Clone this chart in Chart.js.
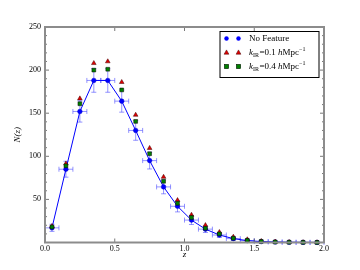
<!DOCTYPE html>
<html>
<head>
<meta charset="utf-8">
<script src="https://cdn.jsdelivr.net/npm/chart.js@4"></script>
<style>
  html, body { margin: 0; padding: 0; background: #fff; }
  #wrap { width: 360px; height: 270px; }
</style>
</head>
<body>
<div id="wrap"><canvas id="nzChart" width="360" height="270"></canvas></div>
<script>
// ================= DATA =================
const zBins = [0.05, 0.15, 0.25, 0.35, 0.45, 0.55, 0.65, 0.75, 0.85, 0.95,
               1.05, 1.15, 1.25, 1.35, 1.45, 1.55, 1.65, 1.75, 1.85, 1.95];
const noFeature = [17, 85, 152, 188, 188, 164, 130, 95, 64.5, 42,
                   26, 15.5, 8.7, 4.5, 2.2, 1.1, 0.6, 0.3, 0.15, 0.1];
const noFeatureErr = [4.1, 9.2, 12.3, 13.7, 13.7, 12.8, 11.4, 9.7, 8, 6.5,
                      5.1, 3.9, 2.9, 2.1, 1.5, 1, 0.8, 0.5, 0.4, 0.3];
const zHalfWidth = [0.05, 0.05, 0.05, 0.05, 0.05, 0.05, 0.05, 0.05, 0.05, 0.05,
                    0.05, 0.05, 0.05, 0.05, 0.05, 0.05, 0.05, 0.05, 0.05, 0.05];
const kIR01 = [19, 91.5, 167, 208, 210, 186, 148, 109.5, 76, 49,
               32, 20, 12, 6.5, 3.5, 1.6, 0.8, 0.4, 0.2, 0.1];
const kIR04 = [18, 89, 161, 200, 201, 177, 140.5, 103, 71, 45.5,
               29, 16.5, 10, 5, 2.5, 1.2, 0.6, 0.3, 0.2, 0.1];

const xTicks = [0.0, 0.5, 1.0, 1.5, 2.0];
const yTicks = [50, 100, 150, 200, 250];
const legendLabels = ["No Feature", "0.1", "0.4"];

const SERIF = "'Liberation Serif', 'DejaVu Serif', serif";

function toPoints(ys) {
    return zBins.map((z, i) => ({ x: z, y: ys[i] }));
}

// ================= PLUGINS =================
// error bars for the "No Feature" series
const errorBars = {
    id: "errorBars",
    beforeDatasetsDraw(chart) {
        const { ctx, scales: { x, y } } = chart;
        ctx.save();
        ctx.strokeStyle = "rgba(60,60,255,0.55)";
        ctx.lineWidth = 1;
        zBins.forEach((z, i) => {
            const px = x.getPixelForValue(z);
            const py = y.getPixelForValue(noFeature[i]);
            const x0 = x.getPixelForValue(z - zHalfWidth[i]);
            const x1 = x.getPixelForValue(z + zHalfWidth[i]);
            const y0 = y.getPixelForValue(noFeature[i] - noFeatureErr[i]);
            const y1 = y.getPixelForValue(noFeature[i] + noFeatureErr[i]);
            ctx.beginPath();
            ctx.moveTo(x0, py); ctx.lineTo(x1, py);
            ctx.moveTo(x0, py - 2.5); ctx.lineTo(x0, py + 2.5);
            ctx.moveTo(x1, py - 2.5); ctx.lineTo(x1, py + 2.5);
            ctx.moveTo(px, y0); ctx.lineTo(px, y1);
            ctx.moveTo(px - 2.5, y0); ctx.lineTo(px + 2.5, y0);
            ctx.moveTo(px - 2.5, y1); ctx.lineTo(px + 2.5, y1);
            ctx.stroke();
        });
        ctx.restore();
    }
};

// frame and inward ticks like the original figure
const frameTicks = {
    id: "frameTicks",
    afterDraw(chart) {
        const { ctx, chartArea: a, scales: { x, y } } = chart;
        ctx.save();
        ctx.strokeStyle = "#555";
        ctx.lineWidth = 0.8;
        ctx.beginPath();
        xTicks.forEach(v => {
            const px = x.getPixelForValue(v);
            ctx.moveTo(px, a.bottom); ctx.lineTo(px, a.bottom - 4);
            ctx.moveTo(px, a.top); ctx.lineTo(px, a.top + 4);
        });
        for (let v = 10; v < 250; v += 10) {
            const py = y.getPixelForValue(v);
            const len = v % 50 === 0 ? 4 : 2;
            ctx.moveTo(a.left, py); ctx.lineTo(a.left + len, py);
            ctx.moveTo(a.right, py); ctx.lineTo(a.right - len, py);
        }
        ctx.stroke();

        ctx.strokeStyle = "#8c8c8c";
        ctx.lineWidth = 2;
        ctx.strokeRect(a.left, a.top, a.right - a.left, a.bottom - a.top);
        ctx.restore();
    }
};

// legend box in the upper right corner
const cornerLegend = {
    id: "cornerLegend",
    afterDraw(chart) {
        const { ctx } = chart;
        const bx = 220, by = 31.5, bw = 99, bh = 46;
        ctx.save();
        ctx.fillStyle = "#fff";
        ctx.fillRect(bx, by, bw, bh);
        ctx.strokeStyle = "#000";
        ctx.lineWidth = 1;
        ctx.strokeRect(bx, by, bw, bh);

        const rows = [38.5, 52.5, 66.5];
        const mx = [226.5, 238.5];

        // markers
        mx.forEach(cx => {
            ctx.fillStyle = "#0000ff";
            ctx.beginPath(); ctx.arc(cx, rows[0], 2.2, 0, Math.PI * 2); ctx.fill();

            ctx.fillStyle = "#dd0000";
            ctx.strokeStyle = "#400";
            ctx.lineWidth = 0.5;
            ctx.beginPath();
            ctx.moveTo(cx, rows[1] - 2.6);
            ctx.lineTo(cx + 2.4, rows[1] + 1.7);
            ctx.lineTo(cx - 2.4, rows[1] + 1.7);
            ctx.closePath(); ctx.fill(); ctx.stroke();

            ctx.fillStyle = "#008000";
            ctx.strokeStyle = "#000";
            ctx.fillRect(cx - 2.2, rows[2] - 2.2, 4.4, 4.4);
            ctx.strokeRect(cx - 2.2, rows[2] - 2.2, 4.4, 4.4);
        });

        // text
        ctx.fillStyle = "#000";
        ctx.textBaseline = "middle";
        ctx.textAlign = "left";
        ctx.font = "9px " + SERIF;
        ctx.fillText(legendLabels[0], 249, rows[0]);

        [1, 2].forEach(r => {
            let tx = 249;
            const ty = rows[r];
            ctx.font = "italic 9px " + SERIF;
            ctx.fillText("k", tx, ty); tx += ctx.measureText("k").width;
            ctx.font = "6px " + SERIF;
            ctx.fillText("IR", tx, ty + 2.5); tx += ctx.measureText("IR").width + 0.5;
            ctx.font = "9px " + SERIF;
            const mid = "=" + legendLabels[r] + " ";
            ctx.fillText(mid, tx, ty); tx += ctx.measureText(mid).width;
            ctx.font = "italic 9px " + SERIF;
            ctx.fillText("h", tx, ty); tx += ctx.measureText("h").width;
            ctx.font = "9px " + SERIF;
            ctx.fillText("Mpc", tx, ty); tx += ctx.measureText("Mpc").width;
            ctx.font = "6px " + SERIF;
            ctx.fillText("\u22121", tx, ty - 3);
        });
        ctx.restore();
    }
};

// ================= CHART =================
new Chart(document.getElementById("nzChart"), {
    type: "scatter",
    data: {
        datasets: [
            {
                label: "No Feature",
                data: toPoints(noFeature),
                showLine: true,
                borderColor: "#0000ff",
                borderWidth: 1,
                pointRadius: 2.3,
                pointBackgroundColor: "#0000ff",
                pointBorderColor: "#0000cc",
                pointBorderWidth: 0.5,
                clip: false,
                order: 3
            },
            {
                label: "kIR = 0.1",
                data: toPoints(kIR01),
                pointStyle: "triangle",
                pointRadius: 2.7,
                pointBackgroundColor: "#dd0000",
                pointBorderColor: "#400",
                pointBorderWidth: 0.5,
                clip: false,
                order: 2
            },
            {
                label: "kIR = 0.4",
                data: toPoints(kIR04),
                pointStyle: "rect",
                pointRadius: 2.7,
                pointBackgroundColor: "#008000",
                pointBorderColor: "#000",
                pointBorderWidth: 0.5,
                clip: false,
                order: 1
            }
        ]
    },
    options: {
        responsive: false,
        animation: false,
        layout: { padding: { top: 27, right: 36, left: 12, bottom: 10 } },
        plugins: {
            legend: { display: false },
            tooltip: { enabled: false }
        },
        scales: {
            x: {
                type: "linear",
                min: 0, max: 2,
                border: { display: false },
                grid: { display: false, drawTicks: false },
                afterBuildTicks: s => { s.ticks = xTicks.map(v => ({ value: v })); },
                afterFit: s => { s.height = 17.5; },
                ticks: {
                    padding: 2,
                    color: "#000",
                    font: { family: SERIF, size: 8 },
                    callback: v => v.toFixed(1)
                },
                title: {
                    display: true,
                    text: "z",
                    color: "#000",
                    font: { family: SERIF, size: 9, style: "italic" },
                    padding: { top: 0, bottom: 0 }
                }
            },
            y: {
                min: 0, max: 250,
                border: { display: false },
                grid: { display: false, drawTicks: false },
                afterBuildTicks: s => { s.ticks = yTicks.map(v => ({ value: v })); },
                afterFit: s => { s.width = 33; },
                ticks: {
                    padding: 4,
                    color: "#000",
                    font: { family: SERIF, size: 8 }
                },
                title: {
                    display: true,
                    text: "N(z)",
                    color: "#000",
                    font: { family: SERIF, size: 9, style: "italic" },
                    padding: { top: 0, bottom: 0 }
                }
            }
        }
    },
    plugins: [errorBars, frameTicks, cornerLegend]
});
</script>
</body>
</html>
